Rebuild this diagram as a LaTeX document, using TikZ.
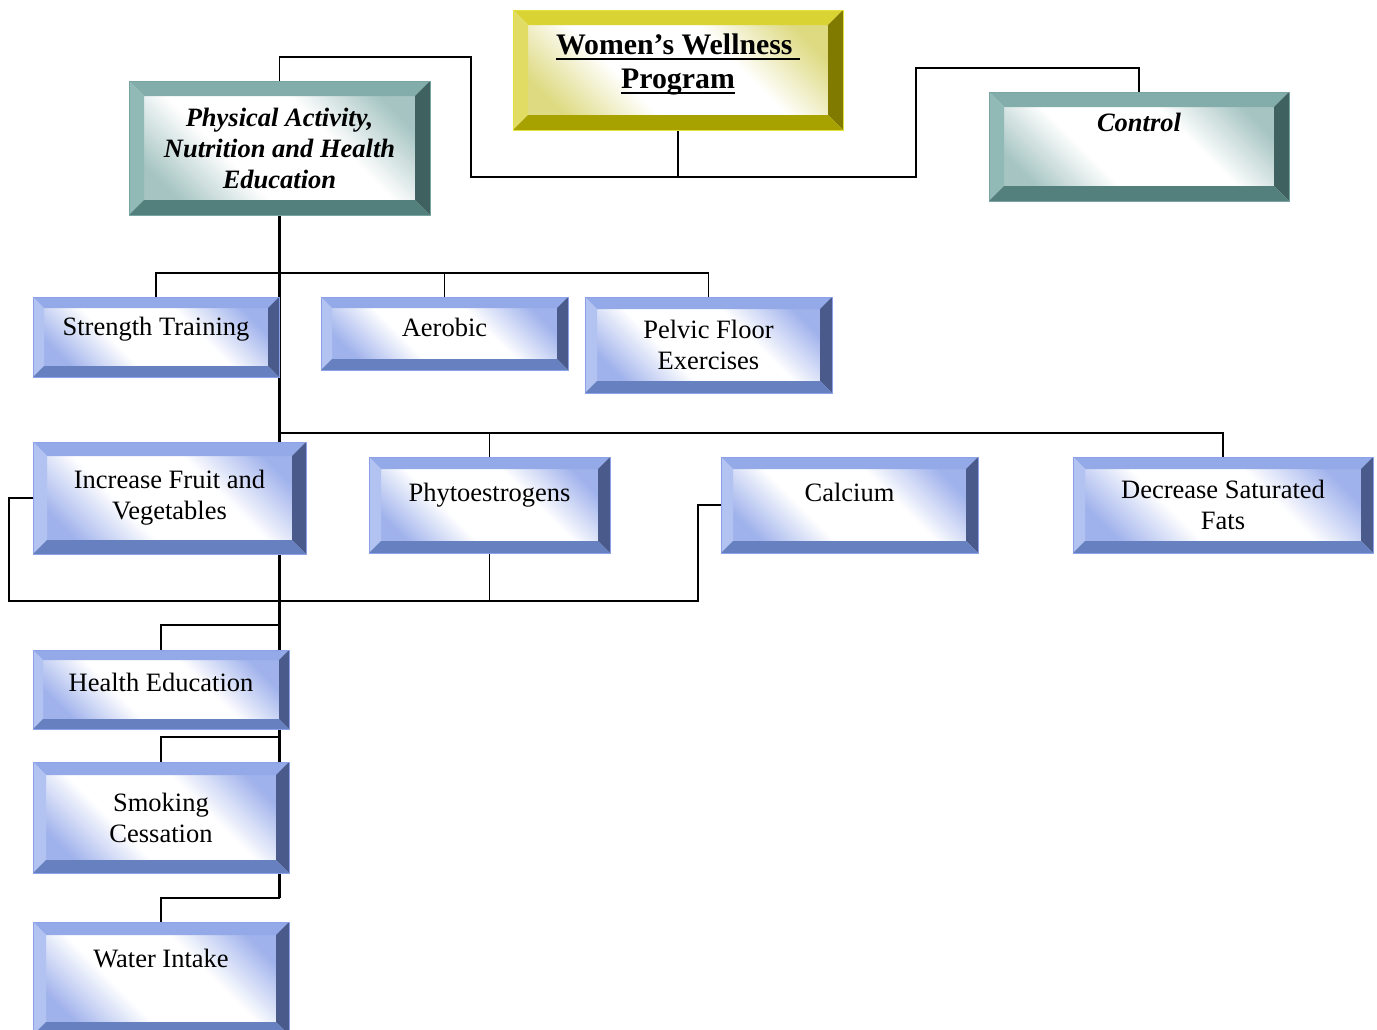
\documentclass[tikz,border=0pt]{standalone}
\usepackage{fontspec}
\setmainfont{Liberation Serif}
\usetikzlibrary{backgrounds}

% bevel colours
\definecolor{topblue}{RGB}{148,170,232}
\definecolor{leftblue}{RGB}{178,195,242}
\definecolor{rightblue}{RGB}{74,90,138}
\definecolor{botblue}{RGB}{103,128,192}
\definecolor{faceblue}{RGB}{160,178,236}
\definecolor{lineblue}{RGB}{140,162,232}
\definecolor{topteal}{RGB}{130,173,170}
\definecolor{leftteal}{RGB}{145,186,183}
\definecolor{rightteal}{RGB}{63,97,95}
\definecolor{botteal}{RGB}{83,127,124}
\definecolor{faceteal}{RGB}{165,196,194}
\definecolor{lineteal}{RGB}{120,165,162}
\definecolor{topgold}{RGB}{217,212,52}
\definecolor{leftgold}{RGB}{225,221,100}
\definecolor{rightgold}{RGB}{128,122,0}
\definecolor{botgold}{RGB}{168,162,0}
\definecolor{facegold}{RGB}{222,218,130}
\definecolor{linegold}{RGB}{230,225,60}

\pgfdeclareverticalshading{bluefill}{100bp}{color(0bp)=(faceblue); color(25bp)=(faceblue); color(40bp)=(white); color(60bp)=(white); color(75bp)=(faceblue); color(100bp)=(faceblue)}
\pgfdeclareverticalshading{tealfill}{100bp}{color(0bp)=(faceteal); color(25bp)=(faceteal); color(40bp)=(white); color(60bp)=(white); color(75bp)=(faceteal); color(100bp)=(faceteal)}
\pgfdeclareverticalshading{goldfill}{100bp}{color(0bp)=(facegold); color(25bp)=(facegold); color(40bp)=(white); color(60bp)=(white); color(75bp)=(facegold); color(100bp)=(facegold)}

\newcommand\boxfont{\fontsize{26.5}{31}\selectfont}
\newcommand\titlefont{\fontsize{29.8}{34}\selectfont\bfseries}
\newcommand\ulword[1]{\setbox0=\hbox{#1}\rlap{\rule[-6pt]{\wd0}{2pt}}\box0}

\tikzset{
  pal/.code={\def\pal{#1}},
  bevw/.code={\def\bevw{#1}},
  bevelbox/.style={pal=#1, bevw=12, draw=line#1, line width=0.8pt, inner sep=0pt,
    shade, shading=#1fill, shading angle=-45, align=center, font=\boxfont,
    path picture={
      \coordinate (pnw) at (path picture bounding box.north west);
      \coordinate (pne) at (path picture bounding box.north east);
      \coordinate (pse) at (path picture bounding box.south east);
      \coordinate (psw) at (path picture bounding box.south west);
      \coordinate (qnw) at ([shift={(\bevw pt,-\bevw pt)}]pnw);
      \coordinate (qne) at ([shift={(-\bevw pt,-\bevw pt)}]pne);
      \coordinate (qse) at ([shift={(-\bevw pt,\bevw pt)}]pse);
      \coordinate (qsw) at ([shift={(\bevw pt,\bevw pt)}]psw);
      \fill[top\pal] (pnw) -- (pne) -- (qne) -- (qnw) -- cycle;
      \fill[left\pal] (pnw) -- (qnw) -- (qsw) -- (psw) -- cycle;
      \fill[right\pal] (pne) -- (pse) -- (qse) -- (qne) -- cycle;
      \fill[bot\pal] (psw) -- (qsw) -- (qse) -- (pse) -- cycle;
    }}
}

\begin{document}
\begin{tikzpicture}[x=1pt, y=-1pt,
  link/.style={draw=black, line width=1.8pt},
  spine/.style={draw=black, line width=2.6pt}]
\useasboundingbox (0,0) rectangle (1377,1029);

% Top level
\node[bevelbox=gold, bevw=15, minimum width=330pt, minimum height=120pt,
  font=\titlefont, text height=62pt, text depth=26pt] (title) at (678,70)
  {\ulword{Women’s Wellness\ }\\\ulword{Program}};
\node[bevelbox=teal, bevw=15, minimum width=301pt, minimum height=134pt,
  font=\boxfont\bfseries\itshape] (phys) at (279.5,148)
  {Physical Activity,\\Nutrition and Health\\Education};
\node[bevelbox=teal, bevw=15, minimum width=300pt, minimum height=109pt,
  font=\boxfont\bfseries\itshape, text height=20pt, text depth=51pt] (control) at (1139,146.5) {Control};

% Physical activity
\node[bevelbox=blue, bevw=11, minimum width=246pt, minimum height=80pt,
  text height=20pt, text depth=24pt] (strength) at (156,337) {Strength Training};
\node[bevelbox=blue, bevw=11, minimum width=247pt, minimum height=73pt,
  text height=20pt, text depth=15pt] (aerobic) at (444.5,333.5) {Aerobic};
\node[bevelbox=blue, minimum width=247pt, minimum height=96pt] (pelvic) at (708.5,345)
  {Pelvic Floor\\Exercises};

% Nutrition
\node[bevelbox=blue, bevw=14, minimum width=273pt, minimum height=112pt] (fruit) at (169.5,498)
  {Increase Fruit and\\Vegetables};
\node[bevelbox=blue, minimum width=241pt, minimum height=96pt,
  text height=20pt, text depth=28pt] (phyto) at (489.5,505) {Phytoestrogens};
\node[bevelbox=blue, minimum width=257pt, minimum height=96pt,
  text height=20pt, text depth=28pt] (calcium) at (849.5,505) {Calcium};
\node[bevelbox=blue, minimum width=300pt, minimum height=96pt] (fats) at (1223,505)
  {Decrease Saturated\\Fats};

% Health education
\node[bevelbox=blue, bevw=10, minimum width=256pt, minimum height=79pt,
  text height=20pt, text depth=17pt] (health) at (161,689.5) {Health Education};
\node[bevelbox=blue, bevw=13, minimum width=256pt, minimum height=111pt] (smoking) at (161,817.5)
  {Smoking\\Cessation};
\node[bevelbox=blue, bevw=13, minimum width=256pt, minimum height=113pt,
  text height=20pt, text depth=43pt] (water) at (161,978.5) {Water Intake};

% Connectors
\begin{scope}[on background layer]
\coordinate (hub) at (678,177);
\draw[link] (title.south) -- (hub);
\draw[link] (phys.north) -- ++(0,-24) -| (471,177) -- (916,177) -- (916,68) -| (control.north);

\coordinate (trunkend) at (phys.south |- 0,898);
\draw[spine] (phys.south) -- (trunkend);

\coordinate (bus1) at (phys.south |- 0,273);
\draw[link] (strength.north) |- (bus1) -| (pelvic.north);
\draw[link] (aerobic.north) -- (aerobic.north |- bus1);

\coordinate (bus2) at (phys.south |- 0,433);
\draw[link] (bus2) -| (fats.north);
\draw[link] (phyto.north) -- (phyto.north |- bus2);

\coordinate (bus3) at (phys.south |- 0,601);
\draw[link] (fruit.west) -- ++(-24,0) |- (bus3) -- ++(418.5,0) |- (calcium.west);
\draw[link] (phyto.south) -- (phyto.south |- bus3);

\draw[link] (health.north) |- (phys.south |- 0,625);
\draw[link] (smoking.north) |- (phys.south |- 0,737);
\draw[link] (water.north) |- (trunkend);
\end{scope}
\end{tikzpicture}
\end{document}
